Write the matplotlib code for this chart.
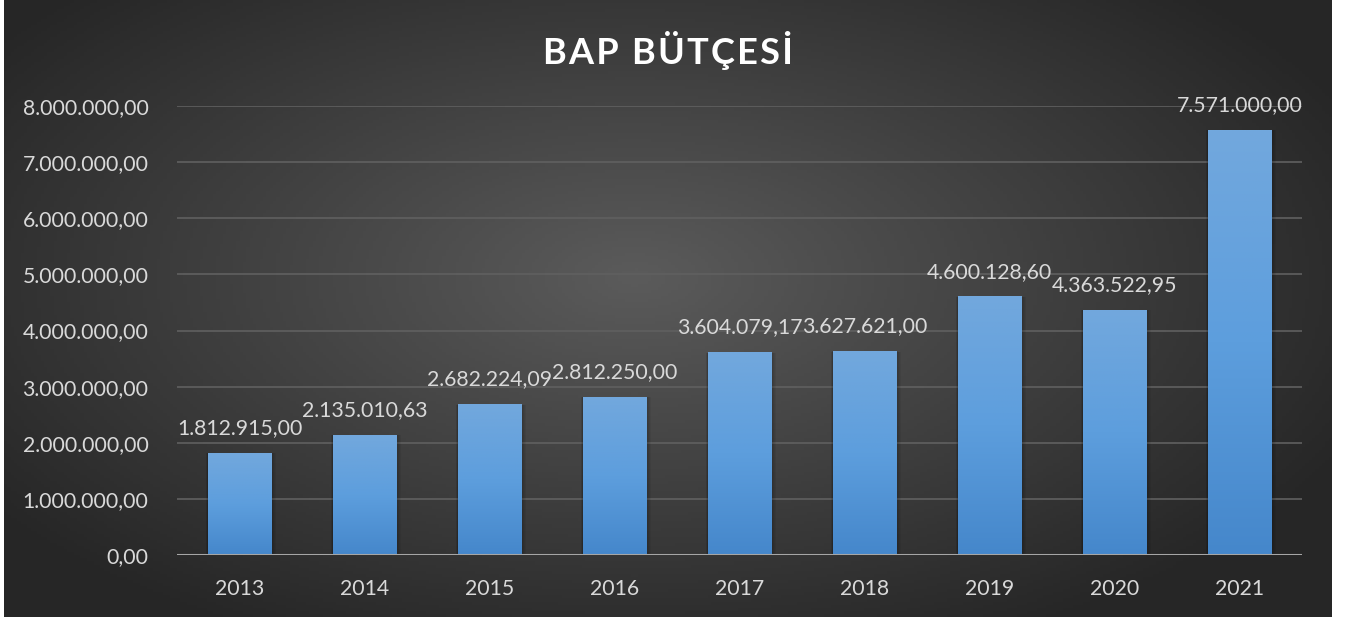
"""BAP bütçesi bar chart, yearly budget."""

import numpy as np
import matplotlib.pyplot as plt
from matplotlib.colors import LinearSegmentedColormap
from matplotlib.patches import Rectangle

years = ["2013", "2014", "2015", "2016", "2017", "2018", "2019", "2020", "2021"]
budget = [1812915.00, 2135010.63, 2682224.09, 2812250.00, 3604079.17,
          3627621.00, 4600128.60, 4363522.95, 7571000.00]
yticks = [0, 1e6, 2e6, 3e6, 4e6, 5e6, 6e6, 7e6, 8e6]

TEXT = "#d9d9d9"
FONT = ["Lato", "DejaVu Sans"]
plt.rcParams["font.family"] = FONT


def tr_format(v):
    s = f"{v:,.2f}"
    return s.replace(",", "X").replace(".", ",").replace("X", ".")


W, H = 1347, 621
fig = plt.figure(figsize=(W / 100, H / 100), dpi=100, facecolor="white")

# radial gradient background
bg = fig.add_axes([4 / W, 4 / H, 1328 / W, 617 / H])
bg.set_axis_off()
gx, gy = np.meshgrid(np.linspace(-1, 1, 400), np.linspace(-1, 1, 200))
r = np.sqrt(((gx + 0.05) / 1.0) ** 2 + ((gy + 0.1) / 1.1) ** 2)
r = np.clip(r / 1.2, 0, 1)
bg_cmap = LinearSegmentedColormap.from_list("bg", ["#5b5b5b", "#262626"])
bg.imshow(r, cmap=bg_cmap, aspect="auto", extent=[0, 1, 0, 1], vmin=0, vmax=1)
bg.set_xlim(0, 1)
bg.set_ylim(0, 1)

ax = fig.add_axes([177 / W, (H - 555) / H, 1125 / W, 449 / H])
ax.set_facecolor("none")

x = np.arange(len(years))
width = 0.505
bar_cmap = LinearSegmentedColormap.from_list("bar", ["#4587cb", "#5d9edd", "#72a8dd"])
grad = np.linspace(0, 1, 256).reshape(-1, 1)

for xi, v in zip(x, budget):
    # soft shadow
    for k in range(1, 6):
        d = 0.006 * k
        ax.add_patch(Rectangle((xi - width / 2 - d * 0.6, -d * 1e6 * 0.3),
                               width + d * 1.8, v + d * 1e6 * 0.2,
                               facecolor="black", alpha=0.05, lw=0, zorder=2))
    ax.imshow(grad, cmap=bar_cmap, origin="lower", aspect="auto",
              extent=[xi - width / 2, xi + width / 2, 0, v], zorder=3)
    ax.text(xi, v + 270000, tr_format(v), ha="center", va="bottom",
            color=TEXT, fontsize=15.3, zorder=4)

ax.set_xlim(-0.5, len(years) - 0.5)
ax.set_ylim(0, 8e6)
ax.set_xticks(x)
ax.set_xticklabels(years)
ax.set_yticks(yticks)
ax.set_yticklabels([tr_format(t) for t in yticks])
ax.tick_params(axis="both", length=0, colors=TEXT, labelsize=15.3)
ax.tick_params(axis="y", pad=20.5)
ax.tick_params(axis="x", pad=17)
for t in yticks[1:]:
    ax.axhline(t, color="#606060", lw=1.2, zorder=1)
ax.axhline(0, color="#a6a6a6", lw=2.2, zorder=5)
for s in ax.spines.values():
    s.set_visible(False)

title = "\u200a".join("BAP BÜTÇESİ")
fig.text(0.496, 0.918, title, ha="center", va="center",
         color="white", fontsize=26, fontweight="bold")

plt.savefig("out.png", dpi=100, facecolor="white")
